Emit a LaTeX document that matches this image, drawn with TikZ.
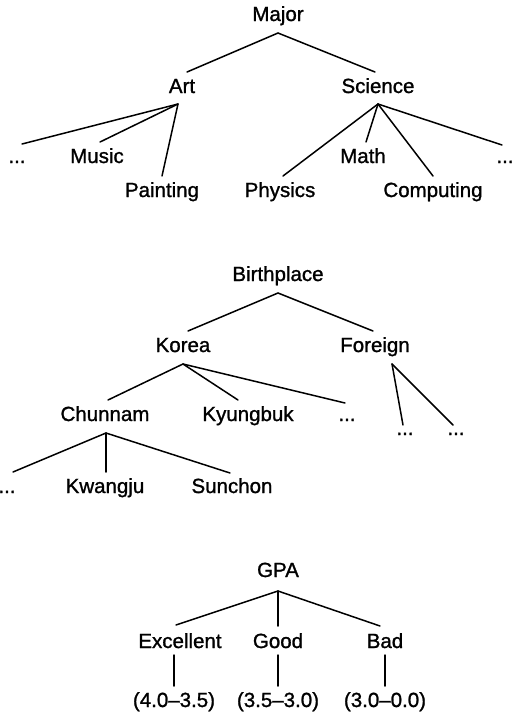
\documentclass[tikz,border=0pt]{standalone}
\usepackage{fontspec}
\setmainfont{Liberation Sans}[FakeBold=1.2]
\usetikzlibrary{calc}

\begin{document}
\begin{tikzpicture}[
    x=1pt, y=-1pt,
    lbl/.style={font=\fontsize{20.5}{24}\selectfont, inner sep=0pt,
                text height=14pt, text depth=5pt, outer ysep=7pt, anchor=base},
    edge/.style={line width=1.5pt, line cap=round}
  ]
  \useasboundingbox (0,0) rectangle (514,716);

  % ---------- Major ----------
  \node[lbl] (major)     at (278,21)  {Major};
  \node[lbl] (art)       at (182,93)  {Art};
  \node[lbl] (science)   at (378,93)  {Science};
  \node[lbl] (artdots)   at (17,163)  {...};
  \node[lbl] (music)     at (97,163)  {Music};
  \node[lbl] (painting)  at (162,197) {Painting};
  \node[lbl] (physics)   at (280,197) {Physics};
  \node[lbl] (math)      at (363,163) {Math};
  \node[lbl] (computing) at (433,197) {Computing};
  \node[lbl] (scidots)   at (505,163) {...};

  \draw[edge] (major.south) -- ($(art.north)+(5,0)$);
  \draw[edge] (major.south) -- ($(science.north)+(-3,0)$);
  \draw[edge] ($(art.south)+(-4,-1)$) -- ($(artdots.north)+(5,2)$);
  \draw[edge] ($(art.south)+(-4,-1)$) -- ($(music.north)+(3,0)$);
  \draw[edge] ($(art.south)+(-4,-1)$) -- (painting.north);
  \draw[edge] ($(science.south)+(0,-1)$) -- ($(physics.north)+(3,0)$);
  \draw[edge] ($(science.south)+(0,-1)$) -- ($(math.north)+(3,0)$);
  \draw[edge] ($(science.south)+(0,-1)$) -- (computing.north);
  \draw[edge] ($(science.south)+(0,-1)$) -- ($(scidots.north)+(-3,3)$);

  % ---------- Birthplace ----------
  \node[lbl] (birth)    at (278,281) {Birthplace};
  \node[lbl] (korea)    at (183,352) {Korea};
  \node[lbl] (foreign)  at (375,352) {Foreign};
  \node[lbl] (chunnam)  at (105,421) {Chunnam};
  \node[lbl] (kyungbuk) at (248,421) {Kyungbuk};
  \node[lbl] (kordots)  at (347,421) {...};
  \node[lbl] (fordotsa) at (405,435) {...};
  \node[lbl] (fordotsb) at (456,435) {...};
  \node[lbl] (chudots)  at (7,493)   {...};
  \node[lbl] (kwangju)  at (105,493) {Kwangju};
  \node[lbl] (sunchon)  at (232,493) {Sunchon};

  \draw[edge] (birth.south) -- ($(korea.north)+(5,0)$);
  \draw[edge] (birth.south) -- ($(foreign.north)+(-2,0)$);
  \draw[edge] (korea.south) -- ($(chunnam.north)+(3,0)$);
  \draw[edge] (korea.south) -- ($(kyungbuk.north)+(-10,0)$);
  \draw[edge] (korea.south) -- ($(kordots.north)+(-2,3)$);
  \draw[edge] ($(foreign.south)+(17,0)$) -- ($(fordotsa.north)+(-2,11)$);
  \draw[edge] ($(foreign.south)+(17,0)$) -- ($(fordotsb.north)+(-3,11)$);
  \draw[edge] ($(chunnam.south)+(1,0)$) -- ($(chudots.north)+(6,0)$);
  \draw[edge] ($(chunnam.south)+(1,0)$) -- ($(kwangju.north)+(1,0)$);
  \draw[edge] ($(chunnam.south)+(1,0)$) -- ($(sunchon.north)+(-2,1)$);

  % ---------- GPA ----------
  \node[lbl] (gpa)  at (278,577) {GPA};
  \node[lbl] (exc)  at (180,648) {Excellent};
  \node[lbl] (good) at (278,648) {Good};
  \node[lbl] (bad)  at (385,648) {Bad};
  \node[lbl] (rexc)  at (174,707) {(4.0–3.5)};
  \node[lbl] (rgood) at (278,707) {(3.5–3.0)};
  \node[lbl] (rbad)  at (385,707) {(3.0–0.0)};

  \draw[edge] ($(gpa.south)+(0,2)$) -- ($(exc.north)+(-4,-2)$);
  \draw[edge] ($(gpa.south)+(0,2)$) -- ($(good.north)+(0,-1)$);
  \draw[edge] ($(gpa.south)+(0,2)$) -- ($(bad.north)+(-5,-1)$);
  \draw[edge] ($(exc.south)+(-6,-5)$)  -- (rexc.north);
  \draw[edge] ($(good.south)+(0,-5)$)  -- (rgood.north);
  \draw[edge] ($(bad.south)+(0,-5)$)   -- (rbad.north);
\end{tikzpicture}
\end{document}
